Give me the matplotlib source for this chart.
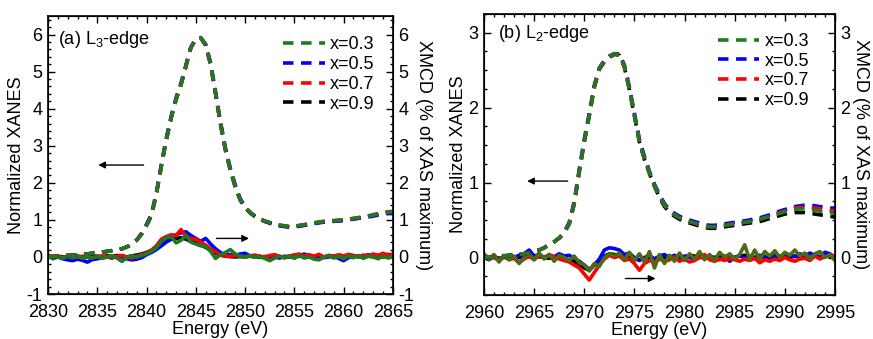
import numpy as np
import matplotlib
matplotlib.use("Agg")
import matplotlib.pyplot as plt
from matplotlib.ticker import MultipleLocator

plt.rcParams["font.family"] = ["Liberation Sans", "DejaVu Sans"]
plt.rcParams["mathtext.default"] = "regular"
plt.rcParams["axes.unicode_minus"] = False
plt.rcParams["font.size"] = 13

# ---------------- data: L3 edge (0.5 eV grid) ----------------
energy_l3 = np.arange(2830.0, 2865.01, 0.5)

xanes_l3_x03 = [0.00, 0.01, 0.02, 0.03, 0.04, 0.05, 0.06, 0.07, 0.08, 0.10,
                0.11, 0.13, 0.15, 0.17, 0.19, 0.22, 0.27, 0.34, 0.45, 0.62,
                0.85, 1.12, 1.70, 2.45, 3.15, 3.75, 4.25, 4.65, 5.15, 5.65,
                5.88, 5.92, 5.72, 5.20, 4.42, 3.60, 2.90, 2.35, 1.90, 1.55,
                1.33, 1.20, 1.10, 1.03, 0.97, 0.93, 0.89, 0.86, 0.84, 0.82,
                0.83, 0.85, 0.87, 0.90, 0.92, 0.94, 0.96, 0.97, 0.98, 0.99,
                1.00, 1.02, 1.04, 1.06, 1.08, 1.10, 1.13, 1.16, 1.19, 1.21,
                1.22]
xanes_l3_x05 = [0.00, 0.01, 0.02, 0.03, 0.04, 0.05, 0.06, 0.07, 0.08, 0.10,
                0.11, 0.13, 0.15, 0.17, 0.19, 0.22, 0.27, 0.34, 0.46, 0.64,
                0.88, 1.16, 1.74, 2.50, 3.20, 3.80, 4.30, 4.70, 5.18, 5.66,
                5.88, 5.91, 5.74, 5.24, 4.47, 3.66, 2.96, 2.40, 1.95, 1.58,
                1.35, 1.21, 1.10, 1.02, 0.96, 0.91, 0.87, 0.84, 0.82, 0.80,
                0.81, 0.83, 0.85, 0.88, 0.90, 0.92, 0.94, 0.95, 0.96, 0.97,
                0.98, 1.00, 1.02, 1.04, 1.06, 1.08, 1.10, 1.13, 1.15, 1.17,
                1.17]
xanes_l3_x07 = [0.00, 0.01, 0.02, 0.03, 0.04, 0.05, 0.06, 0.07, 0.08, 0.10,
                0.11, 0.13, 0.15, 0.17, 0.19, 0.22, 0.27, 0.34, 0.45, 0.62,
                0.85, 1.12, 1.70, 2.45, 3.15, 3.75, 4.25, 4.65, 5.15, 5.65,
                5.88, 5.92, 5.72, 5.20, 4.42, 3.60, 2.90, 2.35, 1.90, 1.55,
                1.33, 1.20, 1.10, 1.03, 0.97, 0.93, 0.89, 0.86, 0.84, 0.82,
                0.83, 0.85, 0.87, 0.90, 0.92, 0.94, 0.96, 0.97, 0.98, 0.99,
                1.00, 1.02, 1.04, 1.06, 1.08, 1.11, 1.14, 1.17, 1.20, 1.22,
                1.23]
xanes_l3_x09 = [0.00, 0.01, 0.02, 0.03, 0.04, 0.05, 0.06, 0.07, 0.08, 0.10,
                0.11, 0.13, 0.15, 0.17, 0.19, 0.22, 0.27, 0.34, 0.45, 0.62,
                0.85, 1.12, 1.70, 2.45, 3.15, 3.75, 4.25, 4.65, 5.15, 5.65,
                5.87, 5.91, 5.71, 5.19, 4.41, 3.59, 2.89, 2.34, 1.89, 1.54,
                1.32, 1.19, 1.09, 1.02, 0.96, 0.92, 0.88, 0.85, 0.83, 0.81,
                0.82, 0.84, 0.86, 0.89, 0.91, 0.93, 0.95, 0.96, 0.97, 0.98,
                0.99, 1.01, 1.03, 1.05, 1.07, 1.09, 1.12, 1.15, 1.18, 1.20,
                1.21]

xmcd_l3_x03 = [0.02, -0.05, 0.00, -0.03, 0.01, -0.02, 0.03, -0.04, 0.00, -0.02,
               0.02, -0.04, 0.00, 0.03, -0.03, -0.12, -0.02, 0.03, 0.00, 0.04,
               0.08, 0.15, 0.25, 0.42, 0.52, 0.55, 0.38, 0.45, 0.58, 0.40,
               0.35, 0.30, 0.28, 0.15, -0.04, 0.06, 0.12, 0.20, 0.08, 0.02,
               0.00, 0.03, -0.01, 0.01, -0.04, -0.10, -0.03, 0.02, -0.02, 0.03,
               -0.04, 0.05, -0.03, 0.00, -0.06, -0.08, 0.00, 0.04, -0.03, 0.02,
               -0.05, 0.03, -0.02, 0.04, -0.04, 0.02, 0.00, -0.05, 0.03, -0.03,
               0.00]
xmcd_l3_x05 = [0.03, -0.02, 0.00, -0.05, -0.08, -0.10, -0.06, -0.09, -0.14, -0.07,
               -0.05, -0.02, 0.00, -0.03, 0.02, 0.00, -0.05, -0.08, -0.06, -0.02,
               0.06, 0.12, 0.20, 0.30, 0.40, 0.48, 0.60, 0.65, 0.68, 0.58,
               0.50, 0.42, 0.50, 0.35, 0.22, 0.12, 0.05, 0.06, 0.04, 0.08,
               0.10, 0.03, 0.00, 0.02, -0.02, 0.01, 0.00, -0.03, 0.02, 0.00,
               0.05, 0.02, 0.08, 0.03, 0.00, 0.02, -0.02, 0.00, 0.03, -0.04,
               -0.10, -0.02, 0.03, 0.00, 0.02, 0.06, 0.02, 0.05, 0.03, 0.07,
               0.04]
xmcd_l3_x07 = [0.05, 0.00, 0.02, -0.02, 0.01, 0.03, -0.01, 0.02, 0.00, -0.03,
               0.01, 0.03, 0.00, -0.02, 0.02, 0.04, 0.00, -0.03, 0.02, 0.06,
               0.10, 0.18, 0.30, 0.48, 0.55, 0.60, 0.58, 0.74, 0.55, 0.50,
               0.48, 0.40, 0.32, 0.22, 0.14, 0.05, 0.03, 0.01, 0.04, 0.02,
               0.00, 0.03, 0.05, 0.02, 0.00, 0.04, 0.06, 0.02, -0.01, 0.03,
               0.05, 0.08, 0.03, 0.06, 0.02, 0.07, 0.00, 0.04, 0.02, 0.06,
               0.03, 0.07, 0.04, 0.01, 0.05, 0.03, 0.08, 0.04, 0.10, 0.05,
               0.08]
xmcd_l3_x09 = [0.00, 0.01, 0.02, 0.00, -0.01, 0.01, 0.02, 0.00, 0.01, 0.03,
               0.02, 0.00, 0.03, 0.01, 0.04, 0.02, 0.00, 0.03, 0.05, 0.08,
               0.12, 0.18, 0.26, 0.35, 0.42, 0.48, 0.50, 0.52, 0.48, 0.42,
               0.38, 0.32, 0.26, 0.18, 0.10, 0.05, 0.02, 0.01, 0.00, 0.01,
               0.00, 0.02, 0.00, -0.01, 0.01, 0.00, 0.02, 0.00, -0.02, 0.01,
               0.00, 0.02, 0.01, 0.00, 0.02, -0.01, 0.00, 0.02, 0.01, 0.00,
               0.02, 0.00, 0.01, 0.03, 0.00, 0.02, 0.01, 0.03, 0.00, 0.02,
               0.01]

# ---------------- data: L2 edge (0.5 eV grid) ----------------
energy_l2 = np.arange(2960.0, 2995.01, 0.5)

xanes_l2_x03 = [0.00, 0.01, 0.01, 0.02, 0.02, 0.03, 0.03, 0.04, 0.05, 0.06,
                0.08, 0.10, 0.13, 0.17, 0.21, 0.26, 0.33, 0.45, 0.72, 1.15,
                1.55, 1.90, 2.28, 2.52, 2.62, 2.68, 2.72, 2.71, 2.55, 2.25,
                1.90, 1.55, 1.32, 1.13, 0.96, 0.82, 0.70, 0.62, 0.57, 0.53,
                0.50, 0.48, 0.46, 0.44, 0.42, 0.41, 0.41, 0.42, 0.43, 0.44,
                0.45, 0.46, 0.47, 0.48, 0.50, 0.51, 0.53, 0.55, 0.57, 0.59,
                0.61, 0.63, 0.64, 0.65, 0.65, 0.64, 0.63, 0.62, 0.61, 0.60,
                0.59]
xanes_l2_x05 = [0.00, 0.01, 0.01, 0.02, 0.02, 0.03, 0.03, 0.04, 0.05, 0.06,
                0.08, 0.10, 0.13, 0.17, 0.21, 0.26, 0.34, 0.47, 0.75, 1.18,
                1.58, 1.93, 2.30, 2.53, 2.63, 2.69, 2.72, 2.72, 2.57, 2.28,
                1.93, 1.58, 1.35, 1.15, 0.98, 0.84, 0.72, 0.64, 0.59, 0.55,
                0.52, 0.50, 0.48, 0.46, 0.44, 0.43, 0.43, 0.44, 0.45, 0.46,
                0.47, 0.48, 0.49, 0.50, 0.52, 0.53, 0.55, 0.57, 0.59, 0.62,
                0.64, 0.66, 0.68, 0.69, 0.70, 0.70, 0.69, 0.68, 0.67, 0.66,
                0.66]
xanes_l2_x07 = [0.00, 0.01, 0.01, 0.02, 0.02, 0.03, 0.03, 0.04, 0.05, 0.06,
                0.08, 0.10, 0.13, 0.17, 0.21, 0.26, 0.33, 0.45, 0.72, 1.15,
                1.55, 1.90, 2.28, 2.52, 2.62, 2.68, 2.72, 2.71, 2.55, 2.25,
                1.90, 1.55, 1.32, 1.13, 0.96, 0.82, 0.70, 0.62, 0.57, 0.53,
                0.50, 0.48, 0.46, 0.44, 0.42, 0.41, 0.41, 0.42, 0.43, 0.44,
                0.45, 0.46, 0.47, 0.48, 0.50, 0.51, 0.53, 0.55, 0.57, 0.60,
                0.62, 0.64, 0.66, 0.67, 0.67, 0.67, 0.66, 0.65, 0.64, 0.63,
                0.62]
xanes_l2_x09 = [0.00, 0.01, 0.01, 0.02, 0.02, 0.03, 0.03, 0.04, 0.05, 0.06,
                0.08, 0.10, 0.13, 0.17, 0.21, 0.26, 0.33, 0.45, 0.72, 1.14,
                1.54, 1.89, 2.27, 2.51, 2.61, 2.67, 2.71, 2.70, 2.54, 2.24,
                1.89, 1.54, 1.31, 1.12, 0.95, 0.80, 0.68, 0.60, 0.55, 0.51,
                0.48, 0.46, 0.44, 0.42, 0.40, 0.39, 0.39, 0.40, 0.41, 0.42,
                0.43, 0.44, 0.45, 0.46, 0.47, 0.48, 0.50, 0.52, 0.54, 0.56,
                0.58, 0.59, 0.60, 0.60, 0.60, 0.59, 0.58, 0.57, 0.56, 0.55,
                0.54]

xmcd_l2_x03 = [0.05, -0.02, 0.04, -0.06, 0.03, -0.03, 0.02, -0.08, 0.00, 0.05,
               -0.03, 0.06, -0.02, 0.04, -0.05, 0.03, 0.00, -0.04, 0.02, -0.07,
               -0.10, -0.18, -0.08, -0.12, 0.00, 0.05, 0.02, 0.06, -0.03, 0.07,
               -0.04, 0.05, -0.06, 0.08, -0.14, 0.04, -0.08, 0.03, -0.05, 0.06,
               -0.04, 0.05, -0.02, 0.08, -0.03, 0.04, -0.04, 0.07, 0.00, 0.05,
               -0.02, 0.04, 0.17, -0.03, 0.10, -0.02, 0.08, 0.02, 0.09, 0.00,
               0.07, 0.03, 0.10, 0.02, 0.06, -0.02, 0.05, 0.08, 0.00, 0.04,
               -0.04]
xmcd_l2_x05 = [0.00, -0.03, 0.02, -0.04, 0.01, -0.02, 0.00, 0.03, 0.05, 0.10,
               0.02, 0.04, 0.00, 0.03, 0.01, 0.05, 0.02, 0.03, -0.01, -0.05,
               -0.10, -0.16, -0.10, -0.02, 0.10, 0.13, 0.12, 0.10, 0.04, 0.06,
               0.00, -0.04, 0.00, 0.03, -0.02, 0.02, 0.04, 0.00, 0.03, -0.01,
               0.02, 0.00, -0.02, 0.01, -0.01, 0.02, 0.00, -0.03, 0.02, -0.05,
               0.00, 0.03, -0.01, 0.02, 0.00, 0.03, -0.02, 0.01, 0.03, 0.00,
               0.02, 0.04, 0.01, 0.05, 0.02, 0.06, 0.03, 0.01, 0.07, 0.05,
               0.00]
xmcd_l2_x07 = [0.03, -0.02, 0.00, -0.04, 0.02, -0.03, -0.01, -0.07, -0.02, 0.02,
               -0.03, 0.03, 0.00, 0.04, 0.01, -0.02, -0.04, -0.06, -0.10, -0.14,
               -0.22, -0.30, -0.20, -0.10, -0.02, 0.03, 0.00, 0.02, -0.04, -0.02,
               -0.08, -0.17, -0.08, -0.04, -0.06, -0.02, -0.05, -0.03, 0.01, -0.05,
               -0.02, -0.06, -0.04, 0.00, 0.04, -0.03, -0.05, -0.02, -0.04, -0.01,
               -0.03, -0.05, -0.02, -0.04, -0.01, -0.07, -0.03, -0.05, -0.02, -0.04,
               0.00, -0.03, -0.05, -0.02, -0.01, -0.04, 0.02, -0.02, 0.01, 0.03,
               0.02]
xmcd_l2_x09 = [0.02, 0.00, 0.01, -0.01, 0.00, 0.01, -0.01, 0.00, 0.02, 0.01,
               0.00, 0.01, 0.00, -0.01, 0.00, 0.01, -0.02, -0.03, -0.05, -0.09,
               -0.14, -0.17, -0.10, -0.04, 0.02, 0.05, 0.04, 0.03, 0.01, 0.00,
               -0.02, -0.03, -0.01, 0.00, -0.02, 0.01, 0.00, -0.01, 0.01, 0.00,
               0.01, 0.03, 0.02, 0.00, 0.01, -0.01, 0.00, 0.02, 0.00, 0.01,
               0.00, 0.02, 0.03, 0.01, 0.00, 0.02, 0.01, -0.01, 0.00, 0.02,
               0.01, 0.00, 0.02, 0.01, 0.03, 0.00, 0.02, 0.01, 0.03, 0.02,
               0.01]

labels = ["x=0.3", "x=0.5", "x=0.7", "x=0.9"]
colors = ["#1f7a1f", "#0000ff", "#ff0000", "#000000"]
xmcd_green_l2 = "#4d6b12"


def style_panel(ax, axr, xlim, ylim, yminor, yticks):
    ax.set_xlim(*xlim)
    ax.set_ylim(*ylim)
    axr.set_ylim(*ylim)
    ax.xaxis.set_major_locator(MultipleLocator(5))
    ax.xaxis.set_minor_locator(MultipleLocator(1))
    ax.set_yticks(yticks)
    axr.set_yticks(yticks)
    ax.yaxis.set_minor_locator(MultipleLocator(yminor))
    axr.yaxis.set_minor_locator(MultipleLocator(yminor))
    ax.tick_params(which="both", direction="in", top=True, right=False, labelsize=13)
    ax.tick_params(which="major", length=5, width=1)
    ax.tick_params(which="minor", length=2.5, width=1)
    ax.tick_params(axis="x", pad=7)
    ax.tick_params(axis="y", pad=4)
    axr.tick_params(which="both", direction="in", labelsize=13, pad=4)
    axr.tick_params(which="major", length=5, width=1)
    axr.tick_params(which="minor", length=2.5, width=1)
    for sp in ax.spines.values():
        sp.set_linewidth(1.2)
    ax.set_xlabel("Energy (eV)", fontsize=13, labelpad=0)
    ax.set_ylabel("Normalized XANES", fontsize=13, labelpad=1)
    axr.set_ylabel("XMCD (% of XAS maximum)", fontsize=13, rotation=270, labelpad=13)


def arrow(ax, x0, x1, y):
    ax.annotate("", xy=(x1, y), xytext=(x0, y),
                arrowprops=dict(arrowstyle="-|>", color="k", lw=1.0,
                                mutation_scale=10, shrinkA=0, shrinkB=0))


fig = plt.figure(figsize=(8.73, 3.39), dpi=100)

# ---------------- panel (a) ----------------
ax1 = fig.add_axes([0.055, 0.1327, 0.395, 0.820])
ax1r = ax1.twinx()
xanes_l3 = [xanes_l3_x03, xanes_l3_x05, xanes_l3_x07, xanes_l3_x09]
xmcd_l3 = [xmcd_l3_x03, xmcd_l3_x05, xmcd_l3_x07, xmcd_l3_x09]
for i in [3, 1, 2, 0]:
    ax1r.plot(energy_l3, xmcd_l3[i], color=colors[i], lw=2.6, solid_joinstyle="round")
handles = {}
for i in [3, 1, 2, 0]:
    ln, = ax1.plot(energy_l3, xanes_l3[i], color=colors[i], lw=2.6,
                   dashes=(2.9, 2.1), label=labels[i])
    handles[i] = ln
ax1.set_zorder(ax1r.get_zorder() + 1)
ax1.patch.set_visible(False)
style_panel(ax1, ax1r, (2830, 2865), (-1, 6.5), 0.2, np.arange(-1, 7, 1))
ax1.text(0.03, 0.915, "(a) L$_3$-edge", transform=ax1.transAxes, fontsize=13,
         va="center", ha="left")
ax1.legend([handles[i] for i in range(4)], labels, loc="upper left",
           bbox_to_anchor=(0.635, 0.985), frameon=False, fontsize=13,
           handlelength=2.3, handletextpad=0.3, labelspacing=0.15)
arrow(ax1, 2839.7, 2835.1, 2.48)
arrow(ax1, 2847.1, 2850.4, 0.5)

# ---------------- panel (b) ----------------
ax2 = fig.add_axes([0.5544, 0.1298, 0.402, 0.829])
ax2r = ax2.twinx()
xanes_l2 = [xanes_l2_x03, xanes_l2_x05, xanes_l2_x07, xanes_l2_x09]
xmcd_l2 = [xmcd_l2_x03, xmcd_l2_x05, xmcd_l2_x07, xmcd_l2_x09]
for i in [3, 1, 2, 0]:
    c = xmcd_green_l2 if i == 0 else colors[i]
    ax2r.plot(energy_l2, xmcd_l2[i], color=c, lw=2.6, solid_joinstyle="round")
handles = {}
for i in [3, 1, 2, 0]:
    ln, = ax2.plot(energy_l2, xanes_l2[i], color=colors[i], lw=2.6,
                   dashes=(2.9, 2.1), label=labels[i])
    handles[i] = ln
ax2.set_zorder(ax2r.get_zorder() + 1)
ax2.patch.set_visible(False)
style_panel(ax2, ax2r, (2960, 2995), (-0.5, 3.25), 0.25, np.arange(0, 4, 1))
ax2.text(0.04, 0.93, "(b) L$_2$-edge", transform=ax2.transAxes, fontsize=13,
         va="center", ha="left")
ax2.legend([handles[i] for i in range(4)], labels, loc="upper left",
           bbox_to_anchor=(0.62, 0.99), frameon=False, fontsize=13,
           handlelength=2.3, handletextpad=0.3, labelspacing=0.15)
arrow(ax2, 2968.35, 2964.3, 1.02)
arrow(ax2, 2974.1, 2977.1, -0.28)

fig.savefig("out.png", dpi=100)
